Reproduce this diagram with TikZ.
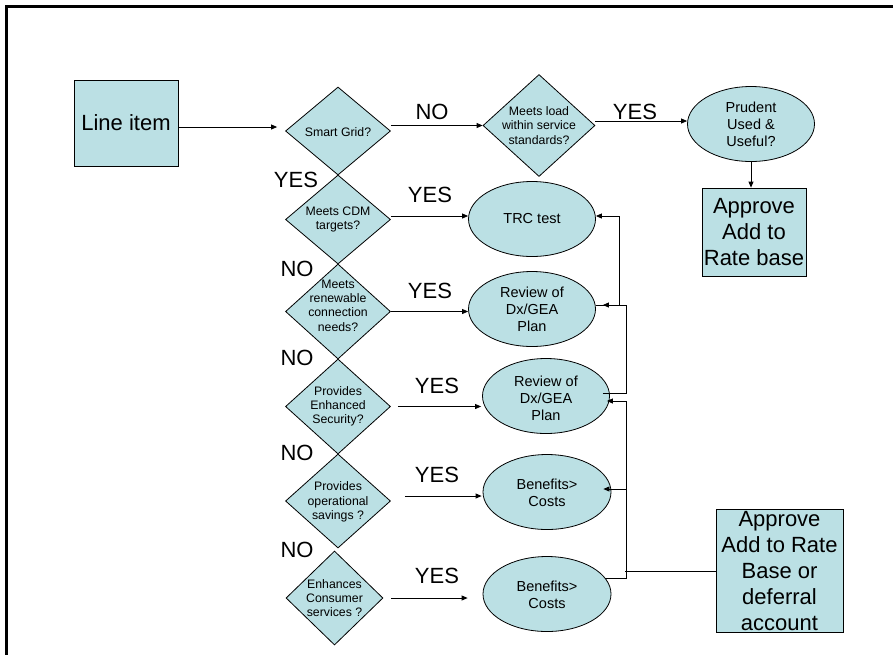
\documentclass[tikz,border=0pt]{standalone}
\usepackage{fontspec}
\setmainfont{Liberation Sans}
\usetikzlibrary{shapes.geometric,arrows.meta}
\definecolor{boxfill}{RGB}{187,224,228}
\tikzset{
  shp/.style={draw, line width=0.8pt, fill=boxfill, inner sep=0pt},
  dia/.style={shp, diamond},
  ell/.style={shp, ellipse},
  rbox/.style={shp, rectangle},
  dtext/.style={font=\fontsize{12.3}{14.3}\selectfont, align=center, inner sep=0pt},
  etext/.style={font=\fontsize{14.5}{17}\selectfont, align=center, inner sep=0pt},
  btext/.style={font=\fontsize{22}{26}\selectfont, align=center, inner sep=0pt},
  yn/.style={font=\fontsize{22}{26}\selectfont, anchor=base, inner sep=0pt},
  arr/.style={line width=0.8pt, -{Triangle[length=6pt,width=5pt]}},
  con/.style={line width=0.8pt},
}
\begin{document}
\begin{tikzpicture}[x=1pt,y=-1pt]
\useasboundingbox (0,0) rectangle (893,654);
% frame
\draw[line width=2.5pt] (6.7,660) -- (6.7,6.7) -- (900,6.7);

% nodes
\node[rbox, minimum width=104, minimum height=86, label={[btext]center:{Line item}}] (line) at (126,123) {};
\node[dia, minimum width=105, minimum height=88, label={[dtext, yshift=-1]center:{Smart Grid?}}] (sg) at (338,131) {};
\node[dia, minimum width=112, minimum height=102, label={[dtext]center:{Meets load\\within service\\standards?}}] (ml) at (539,125.5) {};
\node[ell, minimum width=127, minimum height=75, label={[etext]center:{Prudent\\Used \&\\Useful?}}] (pr) at (751,124) {};
\node[rbox, minimum width=104, minimum height=88, label={[btext]center:{Approve\\Add to\\Rate base}}] (ap1) at (754,232) {};

\node[dia, minimum width=105, minimum height=89, label={[dtext]center:{Meets CDM\\targets?}}] (cdm) at (338,219.5) {};
\node[ell, minimum width=127, minimum height=75, label={[etext]center:{TRC test}}] (trc) at (532,219) {};

\node[dia, minimum width=105, minimum height=95, label={[dtext, yshift=6]center:{Meets\\renewable\\connection\\needs?}}] (ren) at (338,311.5) {};
\node[ell, minimum width=127, minimum height=75, label={[etext]center:{Review of\\Dx/GEA\\Plan}}] (rev1) at (532,309) {};

\node[dia, minimum width=105, minimum height=95, label={[dtext]center:{Provides\\Enhanced\\Security?}}] (sec) at (338,406.5) {};
\node[ell, minimum width=127, minimum height=75, label={[etext, yshift=-2]center:{Review of\\Dx/GEA\\Plan}}] (rev2) at (546,396) {};

\node[dia, minimum width=105, minimum height=94, label={[dtext, yshift=-1]center:{Provides\\operational\\savings ?}}] (ops) at (338,501) {};
\node[ell, minimum width=128, minimum height=75, label={[etext, yshift=-1]center:{Benefits>\\Costs}}] (ben1) at (547,492) {};

\node[dia, minimum width=97, minimum height=94, label={[dtext]center:{Enhances\\Consumer\\services ?}}] (enh) at (334.5,598) {};
\node[ell, minimum width=128, minimum height=75, label={[etext, yshift=-1]center:{Benefits>\\Costs}}] (ben2) at (547,594) {};

\node[rbox, minimum width=127, minimum height=123, label={[btext, yshift=-1]center:{Approve\\Add to Rate\\Base or\\deferral\\account}}] (ap2) at (779.5,570.5) {};

% YES / NO labels
\node[yn] (no1) at (432,119) {NO};
\node[yn] (yes1) at (635,119) {YES};
\node[yn] (yes0) at (296,187) {YES};
\node[yn] (yes2) at (430,202) {YES};
\node[yn] (no2) at (297,276) {NO};
\node[yn] (yes3) at (430,298) {YES};
\node[yn] (no3) at (297,365) {NO};
\node[yn] (yes4) at (437,393) {YES};
\node[yn] (no4) at (297,460) {NO};
\node[yn] (yes5) at (437,482) {YES};
\node[yn] (no5) at (297,557) {NO};
\node[yn] (yes6) at (437,583) {YES};

% main connectors
\draw[arr, shorten >=8pt] ([yshift=-4]line.east) -- ([yshift=-4]line.east -| sg.west);
\draw[arr] (sg.east |- ml.west) -- (ml.west);
\draw[arr] ([yshift=3]pr.west -| ml.east) -- ([yshift=3]pr.west);
\draw[arr] (pr.south) -- (pr.south |- ap1.north);
\draw[arr] ([yshift=3]trc.west -| cdm.east) -- ([yshift=3]trc.west);
\draw[arr] (ren.east) -- (ren.east -| rev1.west);
\draw[arr, shorten >=8pt] ([xshift=7]sec.east) -- ([xshift=7]sec.east -| rev2.west);
\draw[arr, shorten >=1pt] ([xshift=14,yshift=5]ops.east) -- ([yshift=5]ops.east -| ben1.west);
\draw[arr, shorten >=15pt] ([xshift=8]enh.east) -- (enh.east -| ben2.west);

% right-hand return connectors
\draw[arr] ([yshift=4]rev1.east) -- ++(23,0) |- ([yshift=3]trc.east);
\draw[arr] ([xshift=-7,yshift=3]rev2.east) -- ++(23,0) |- ([xshift=7,yshift=4]rev1.east);
\draw[arr] ([xshift=-6,yshift=16]ben2.east) -- ++(21,0) |- ([xshift=-3,yshift=-5]rev2.east);
\coordinate (vx) at (626,489);
\draw[arr] (vx) -- ([xshift=-8,yshift=3]ben1.east);
\draw[con] ([yshift=-1]ap2.west) -- ++(-91,0);
\end{tikzpicture}
\end{document}
